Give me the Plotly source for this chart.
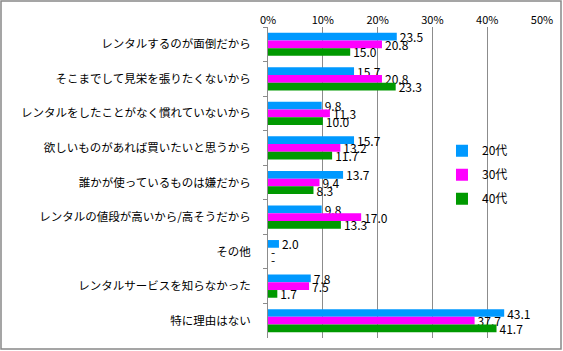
import plotly.graph_objects as go

categories = ["レンタルするのが面倒だから", "そこまでして見栄を張りたくないから", "レンタルをしたことがなく慣れていないから",
              "欲しいものがあれば買いたいと思うから", "誰かが使っているものは嫌だから", "レンタルの値段が高いから/高そうだから",
              "その他", "レンタルサービスを知らなかった", "特に理由はない"]
series_names = ["20代", "30代", "40代"]
v20 = [23.5, 15.7, 9.8, 15.7, 13.7, 9.8, 2.0, 7.8, 43.1]
v30 = [20.8, 20.8, 11.3, 13.2, 9.4, 17.0, None, 7.5, 37.7]
v40 = [15.0, 23.3, 10.0, 11.7, 8.3, 13.3, None, 1.7, 41.7]
colors = ["#0099FF", "#FF00FF", "#009900"]
tick_vals = [0, 10, 20, 30, 40, 50]
tick_text = ["0%", "10%", "20%", "30%", "40%", "50%"]

W, H = 563, 351
ml, mr, mt, mb = 268, 21, 27, 13

fig = go.Figure()
for name, vals, col in zip(series_names, [v20, v30, v40], colors):
    xs = [v if v is not None else 0 for v in vals]
    txt = [f"{v:.1f}" if v is not None else "-" for v in vals]
    fig.add_trace(go.Bar(
        y=categories, x=xs, name=name, orientation="h",
        marker=dict(color=col, line=dict(width=0)),
        text=txt, textposition="outside", constraintext="none", cliponaxis=False,
        textfont=dict(size=12, color="black", family="Noto Sans CJK JP"),
        legendgroup=name,
    ))

pw = W - ml - mr
ph = H - mt - mb
fig.add_shape(type="rect", xref="paper", yref="paper",
              x0=-(ml - 1) / pw, x1=(W - ml - 2) / pw,
              y0=-(mb - 2) / ph, y1=(H - mb - 1) / ph,
              line=dict(color="#888888", width=1.5), fillcolor="rgba(0,0,0,0)", layer="below")

fig.update_layout(
    width=W, height=H, margin=dict(l=ml, r=mr, t=mt, b=mb, autoexpand=False),
    paper_bgcolor="white", plot_bgcolor="white",
    barmode="group", bargap=0.33, bargroupgap=0,
    font=dict(family="Noto Sans CJK JP", size=12, color="black"),
    xaxis=dict(side="top", range=[0, 50], tickvals=tick_vals, ticktext=tick_text,
               showgrid=True, gridcolor="#8c8c8c", gridwidth=1, zeroline=False, automargin=False,
               showline=False, ticks="", tickfont=dict(size=11, family="Noto Sans CJK JP")),
    yaxis=dict(autorange="reversed", showline=True, linecolor="#8c8c8c", linewidth=1,
               ticks="outside", tickson="boundaries", ticklen=4, tickcolor="#8c8c8c",
               ticklabelstandoff=14, automargin=False,
               tickfont=dict(size=11.5), showgrid=False),
    legend=dict(x=0.635, y=0.525, xanchor="left", yanchor="middle", bgcolor="rgba(0,0,0,0)",
                font=dict(size=12), tracegroupgap=5, traceorder="grouped"),
)

fig.write_html("out.html")
